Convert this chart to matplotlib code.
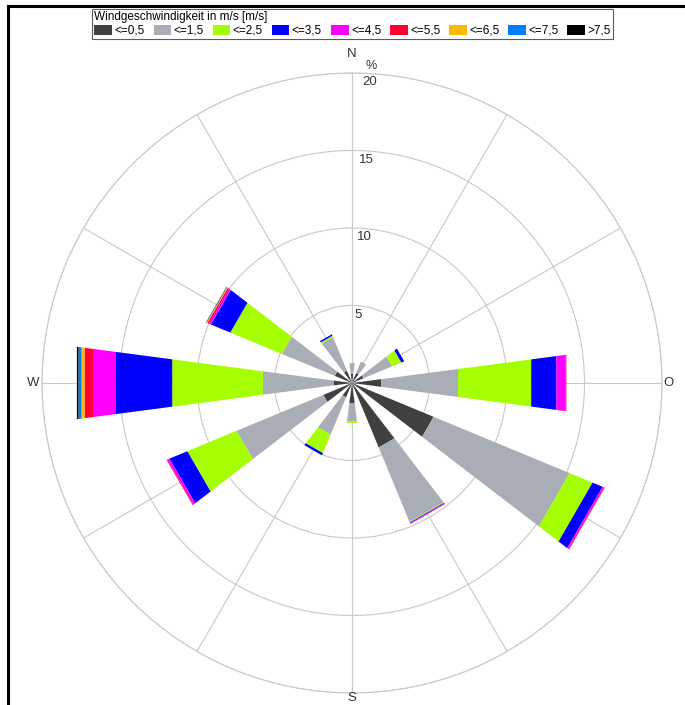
import numpy as np
import matplotlib
matplotlib.use('Agg')
import matplotlib.pyplot as plt
from matplotlib.patches import Patch
from matplotlib.lines import Line2D

plt.rcParams['font.family'] = ['Liberation Sans', 'DejaVu Sans']

# Sektoren im Uhrzeigersinn ab Nord, 30 Grad Schritte
richtungen = [0, 30, 60, 90, 120, 150, 180, 210, 240, 270, 300, 330]

# Haeufigkeit in % je Geschwindigkeitsklasse
klassen = ['<=0,5', '<=1,5', '<=2,5', '<=3,5', '<=4,5', '<=5,5', '<=6,5', '<=7,5', '>7,5']
v_05 = [0.6, 0.7, 0.8, 1.9, 5.7, 4.5, 1.3, 1.0, 2.0, 1.2, 1.2, 0.85]
v_15 = [0.7, 0.8, 2.0, 5.0, 9.5, 5.2, 1.2, 2.6, 6.07, 4.6, 3.7, 2.35]
v_25 = [0, 0, 0.65, 4.76, 1.6, 0.05, 0.1, 1.3, 3.43, 5.9, 3.6, 0.1]
v_35 = [0, 0, 0.2, 1.64, 0.7, 0.05, 0, 0.15, 1.25, 3.7, 1.36, 0.1]
v_45 = [0, 0, 0, 0.6, 0.1, 0.05, 0, 0, 0.15, 1.4, 0.14, 0]
v_55 = [0, 0, 0, 0.05, 0.05, 0, 0, 0, 0.05, 0.6, 0.1, 0]
v_65 = [0, 0, 0, 0, 0, 0, 0, 0, 0, 0.2, 0.05, 0]
v_75 = [0, 0, 0, 0, 0, 0, 0, 0, 0, 0.2, 0.03, 0]
v_gt = [0, 0, 0, 0, 0, 0, 0, 0, 0, 0.1, 0.02, 0]
werte = [v_05, v_15, v_25, v_35, v_45, v_55, v_65, v_75, v_gt]
farben = ['#404040', '#a9adb5', '#a6ff00', '#0000ff', '#ff00ff', '#ff0033',
          '#ffb900', '#0080ff', '#000000']

ringe = [5, 10, 15, 20]

fig = plt.figure(figsize=(6.85, 7.05), dpi=100)
ax = fig.add_axes([42/685, 12/705, 620/685, 620/705], projection='polar')
ax.set_theta_zero_location('N')
ax.set_theta_direction(-1)

# Segmente als Vierecke mit geraden Aussenkanten
halb = np.deg2rad(7.5)
unten = np.zeros(len(richtungen))
for w, c in zip(werte, farben):
    w = np.array(w)
    for t, r0, dr in zip(np.deg2rad(richtungen), unten, w):
        if dr <= 0:
            continue
        r1 = r0 + dr
        ax.fill([t - halb, t - halb, t + halb, t + halb], [r0, r1, r1, r0],
                color=c, linewidth=0, zorder=3)
    unten += w

ax.set_ylim(0, 20)
ax.set_rgrids(ringe, labels=['']*len(ringe))
ax.set_thetagrids(np.arange(0, 360, 30), labels=['']*12)
ax.grid(True, color='#c8c8c8', linewidth=0.8)
ax.spines['polar'].set_color('#c8c8c8')
ax.spines['polar'].set_linewidth(0.8)

for r in ringe:
    ax.text(np.deg2rad(1.9), r - 0.6, str(r), fontsize=9.5, ha='left', va='center',
            color='#333333', zorder=4)
ax.text(np.deg2rad(2.4), 20.45, '%', fontsize=9, ha='left', va='center', color='#333333',
        clip_on=False)
for lbl, ang, rr in [('N', 0, 21.2), ('O', 90, 20.4), ('S', 180, 20.3), ('W', 270, 20.6)]:
    ax.text(np.deg2rad(ang), rr, lbl, fontsize=9.5, ha='center', va='center',
            color='#333333', clip_on=False)

griffe = [Patch(facecolor=c, edgecolor='none') for c in farben]
leg = fig.legend(griffe, klassen, loc='upper left', bbox_to_anchor=(92/685, 1 - 9/705),
                 ncol=9, title='Windgeschwindigkeit in m/s [m/s]', fontsize=8.5,
                 title_fontsize=8.5, alignment='left', frameon=True, fancybox=False,
                 edgecolor='#333333', handlelength=1.5, handleheight=0.9,
                 handletextpad=0.2, columnspacing=0.75, borderpad=0.2,
                 borderaxespad=0, labelspacing=0.1)
leg.get_frame().set_linewidth(0.8)
leg._legend_box.sep = 1

# Rahmenlinien links und oben
fig.add_artist(Line2D([7.5/685, 7.5/685], [0, 1 - 5.5/705], color='black', linewidth=2.2,
                      transform=fig.transFigure))
fig.add_artist(Line2D([7.5/685, 1], [1 - 5.5/705, 1 - 5.5/705], color='black',
                      linewidth=2.2, transform=fig.transFigure))

fig.savefig('out.png', dpi=100, facecolor='white')
